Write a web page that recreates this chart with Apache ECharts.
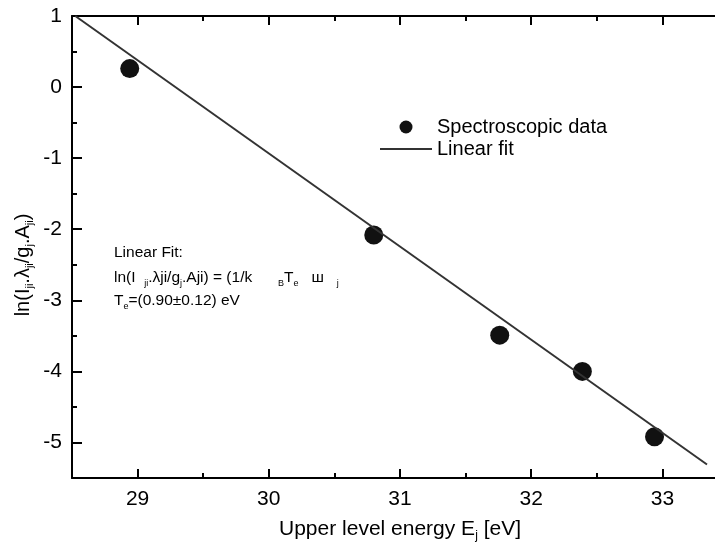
<!DOCTYPE html>
<html>
<head>
<meta charset="utf-8">
<script src="https://cdn.jsdelivr.net/npm/echarts@6/dist/echarts.min.js"></script>
<style>
  html, body { margin: 0; padding: 0; background: #fff; }
  #chart { width: 715px; height: 548px; }
</style>
</head>
<body>
<div id="chart"></div>
<script>
// Boltzmann plot: measured line intensities against upper level energy
const energy = [28.94, 30.80, 31.76, 32.39, 32.94];
const lnIntensity = [0.26, -2.08, -3.49, -4.00, -4.92];

// Endpoints of the least-squares fit line
const fitEnergy = [28.525, 33.34];
const fitValue = [1.0, -5.31];

// Axis ranges and labelled ticks
const xRange = [28.5, 33.5];
const yRange = [-5.5, 1];
const xTickLabels = [29, 30, 31, 32, 33];
const yTickLabels = [-5, -4, -3, -2, -1, 0, 1];

const FONT = 'Liberation Sans, Arial, sans-serif';
const AXIS_COLOR = '#000';

const pointData = energy.map((e, i) => [e, lnIntensity[i]]);
const fitData = fitEnergy.map((e, i) => [e, fitValue[i]]);

// Two grids share one rectangle: grid 0 carries the frame, minor ticks and
// labels; grid 1 only carries the longer major ticks.
const plotRect = { left: 72, top: 16, right: -13, bottom: 70, outerBoundsMode: 'none', containLabel: false };

function axisBase(dim, grid, position, tickLen, majors) {
  const range = dim === 'x' ? xRange : yRange;
  const tick = { show: true, inside: true, length: tickLen,
    lineStyle: { color: AXIS_COLOR, width: 2 } };
  if (majors) tick.customValues = majors;
  return {
    type: 'value', gridIndex: grid, position: position,
    min: range[0], max: range[1], interval: 0.5,
    splitLine: { show: false },
    axisLine: { show: grid === 0, onZero: false, lineStyle: { color: AXIS_COLOR, width: 2 } },
    axisTick: tick,
    axisLabel: { show: false }
  };
}

const xBottom = axisBase('x', 0, 'bottom', 5);
xBottom.axisLabel = {
  show: true, customValues: xTickLabels, margin: 11,
  fontSize: 21, color: '#000', fontFamily: FONT
};
xBottom.name = '{m|Upper level energy E}{s|j}{m| [eV]}';
xBottom.nameLocation = 'middle';
xBottom.nameGap = 38;
xBottom.nameTextStyle = {
  rich: {
    m: { fontSize: 21, fontFamily: FONT, color: '#000' },
    s: { fontSize: 12, fontFamily: FONT, color: '#000', padding: [14, 0, 0, 0] }
  }
};
const xTop = axisBase('x', 0, 'top', 5);
const xBottomMajor = axisBase('x', 1, 'bottom', 9, xTickLabels);
const xTopMajor = axisBase('x', 1, 'top', 9, xTickLabels);

const yLeft = axisBase('y', 0, 'left', 5);
yLeft.axisLabel = {
  show: true, customValues: yTickLabels, margin: 10,
  fontSize: 21, color: '#000', fontFamily: FONT
};
const yLeftMajor = axisBase('y', 1, 'left', 10, yTickLabels);

const subStyle = (size, pad) => ({ fontSize: size, fontFamily: FONT, color: '#000', padding: [pad, 0, 0, 0] });

const chart = echarts.init(document.getElementById('chart'), null, { renderer: 'canvas' });
chart.setOption({
  animation: false,
  backgroundColor: '#fff',
  grid: [Object.assign({}, plotRect), Object.assign({}, plotRect)],
  xAxis: [xBottom, xTop, xBottomMajor, xTopMajor],
  yAxis: [yLeft, yLeftMajor],
  legend: {
    orient: 'vertical', left: 375, top: 112,
    itemWidth: 52, itemHeight: 13, itemGap: 2,
    textStyle: { fontSize: 20, fontFamily: FONT, color: '#000' },
    data: [
      { name: 'Spectroscopic data', icon: 'circle' },
      { name: 'Linear fit', icon: 'path://M0,0H52V2H0Z' }
    ]
  },
  series: [
    {
      name: 'Spectroscopic data', type: 'scatter',
      xAxisIndex: 0, yAxisIndex: 0,
      data: pointData, symbol: 'circle', symbolSize: 19,
      itemStyle: { color: '#111', opacity: 1 }, z: 3
    },
    {
      name: 'Linear fit', type: 'line',
      xAxisIndex: 0, yAxisIndex: 0,
      data: fitData, symbol: 'none',
      lineStyle: { color: '#333', width: 2 },
      itemStyle: { color: '#333' }, z: 4
    }
  ],
  graphic: [
    {
      type: 'text', x: 23, y: 265, rotation: Math.PI / 2,
      style: {
        text: '{m|ln(I}{s|ji}{m|.λ}{s|ji}{m|/g}{s|j}{m|.A}{s|ji}{m|)}',
        align: 'center', verticalAlign: 'middle',
        rich: { m: { fontSize: 20, fontFamily: FONT, color: '#000' }, s: subStyle(11, 14) }
      }
    },
    {
      type: 'text', x: 114, y: 253,
      style: { text: 'Linear Fit:', fontSize: 15.5, fontFamily: FONT, fill: '#000',
        align: 'left', verticalAlign: 'middle' }
    },
    {
      type: 'text', x: 114, y: 278,
      style: {
        text: '{m|ln(I  }{s|ji}{m|.λji/g}{s|j}{m|.Aji) = (1/k      }{s|B}{m|T}{s|e}{m|   ш   }{s|j}',
        align: 'left', verticalAlign: 'middle',
        rich: { m: { fontSize: 15.5, fontFamily: FONT, color: '#000' }, s: subStyle(9, 11) }
      }
    },
    {
      type: 'text', x: 114, y: 301,
      style: {
        text: '{m|T}{s|e}{m|=(0.90±0.12) eV}',
        align: 'left', verticalAlign: 'middle',
        rich: { m: { fontSize: 15.5, fontFamily: FONT, color: '#000' }, s: subStyle(9, 11) }
      }
    }
  ]
});
</script>
</body>
</html>
